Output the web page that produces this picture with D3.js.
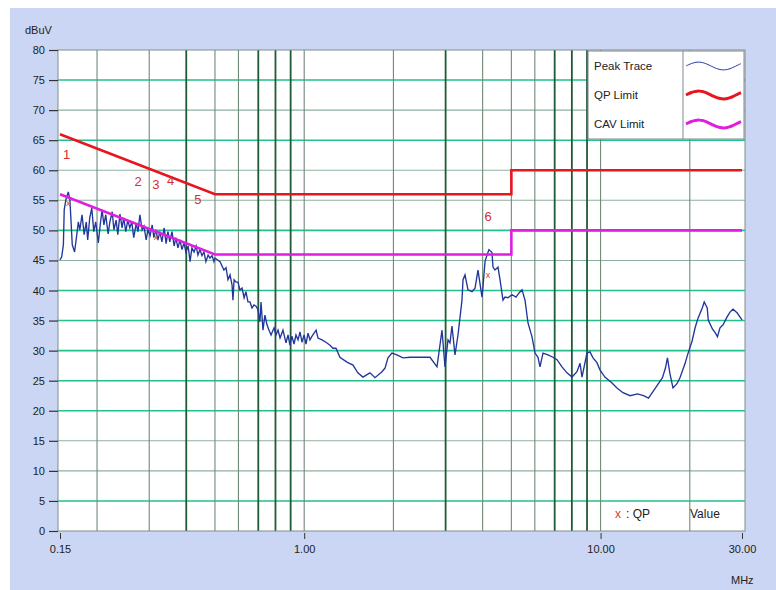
<!DOCTYPE html>
<html><head><meta charset="utf-8">
<script src="https://cdn.jsdelivr.net/npm/d3@7"></script>
<style>
html,body{margin:0;padding:0;background:#fff;}
svg{display:block;}
text{font-family:"Liberation Sans Narrow","Liberation Sans",Arial,sans-serif;}
</style></head>
<body>
<svg id="c" width="776" height="590"></svg>
<script>
// ---------- data ----------
const freqMHz = [0.150,0.152,0.154,0.155,0.157,0.160,0.162,0.165,0.168,0.170,0.173,0.175,0.178,0.181,0.184,0.186,0.189,0.192,0.195,0.198,0.202,0.205,0.208,0.211,0.214,0.218,0.221,0.225,0.228,0.232,0.235,0.239,0.243,0.246,0.250,0.254,0.258,0.262,0.266,0.271,0.275,0.279,0.284,0.288,0.293,0.297,0.302,0.307,0.311,0.316,0.321,0.326,0.331,0.337,0.342,0.347,0.352,0.358,0.364,0.369,0.375,0.381,0.387,0.393,0.399,0.406,0.412,0.418,0.425,0.432,0.438,0.445,0.452,0.459,0.466,0.474,0.481,0.489,0.496,
0.500,0.520,0.536,0.545,0.553,0.562,0.571,0.575,0.580,0.589,0.598,0.607,0.617,0.627,0.636,0.646,0.656,0.667,0.677,0.688,0.698,0.709,0.715,0.726,0.737,0.749,0.761,0.773,0.791,0.803,0.816,0.829,0.848,0.868,0.882,0.895,0.909,0.924,0.938,0.953,0.968,0.983,0.999,1.014,1.030,1.046,1.063,1.097,1.113,1.148,1.184,1.222,1.250,1.280,1.320,1.394,1.461,1.517,1.578,1.667,1.733,1.830,1.874,1.917,1.977,2.054,2.154,2.275,2.459,2.657,2.806,2.917,2.986,3.056,
3.104,3.152,3.227,3.303,3.407,3.434,3.488,3.570,3.683,3.770,3.858,3.980,4.011,4.074,4.138,4.202,4.301,4.335,4.402,4.507,4.578,4.685,4.759,4.871,5.025,5.184,5.306,5.431,5.559,5.690,5.870,6.008,6.150,6.246,6.393,6.645,6.910,7.128,7.410,7.700,8.009,8.324,8.523,8.656,8.996,9.210,9.427,9.722,9.950,10.34,
10.93,11.36,11.90,12.57,13.32,13.96,14.51,15.08,15.67,16.17,16.55,16.81,17.15,17.55,18.10,18.53,19.26,19.71,20.36,20.84,21.32,22.03,22.37,22.90,23.08,23.84,24.41,24.79,25.29,25.89,26.72,27.33,27.97,28.87,30.0];
const peakDb = [45.1,45.6,47.6,53.4,55.1,56.4,55.1,47.6,46.4,48.4,51.4,50.1,52.6,49.3,51.4,48.4,52.1,53.7,49.8,51.4,47.9,50.9,53.4,50.9,52.6,49.4,51.4,53.1,50.1,51.7,49.3,52.7,50.4,52.1,49.8,51.7,50.4,51.4,48.8,51.1,49.8,52.6,50.1,50.7,48.4,50.1,49.1,50.9,48.8,50.1,48.4,49.8,48.1,50.4,47.8,49.8,48.1,49.8,47.4,48.8,47.1,48.4,46.8,47.9,46.4,47.4,44.8,47.1,46.4,47.4,45.9,46.8,45.8,46.4,44.8,45.9,45.4,45.8,44.8,
45.4,44.8,43.4,43.8,41.8,42.6,40.9,38.4,41.8,41.4,41.4,40.1,40.4,38.8,39.8,38.1,38.1,37.1,37.6,37.4,36.8,34.8,38.1,33.4,35.9,34.3,33.4,32.6,33.8,32.6,33.4,32.1,33.4,31.3,32.6,30.9,32.4,31.1,32.6,31.8,33.1,31.4,32.6,31.1,32.9,31.8,32.4,33.4,32.1,31.8,31.4,30.9,30.4,30.4,28.9,28.1,27.6,26.3,25.6,26.3,25.5,26.5,27.1,28.8,29.6,29.3,28.8,28.9,28.9,28.9,27.3,33.4,27.3,31.8,
31.3,34.1,29.3,32.6,38.4,41.8,42.6,40.1,39.8,40.4,43.4,38.9,40.6,44.8,45.9,46.8,46.3,43.9,43.4,43.9,41.8,38.4,38.9,38.8,39.3,38.9,39.6,40.1,38.4,34.6,32.3,29.6,28.9,27.3,29.6,29.3,28.9,28.5,27.3,26.3,25.6,26.5,27.9,25.6,29.6,29.8,28.8,28.0,26.8,25.6,
24.6,23.8,23.0,22.5,22.8,22.5,22.1,23.3,24.5,25.5,27.1,28.8,26.1,23.8,24.5,25.5,27.8,29.5,31.6,33.8,35.4,37.1,38.1,37.1,35.1,33.6,32.9,32.3,33.8,34.3,35.6,36.4,36.9,36.3,35.1];

const limitFreq = [0.15, 0.5, 5, 5, 30];
const qpLimitDb = [66, 56, 56, 60, 60];
const avLimitDb = [56, 46, 46, 50, 50];

const markerNames = ["1","2","3","4","5","6"];
const markerFreq  = [0.158, 0.275, 0.316, 0.354, 0.438, 4.17];
const markerLabelDb = [61.9, 57.4, 56.9, 57.6, 54.4, 51.6];
const qpValueFreq = [0.160, 0.316, 4.17];
const qpValueDb   = [54.5, 48.9, 42.6];

const yTicks = [0,5,10,15,20,25,30,35,40,45,50,55,60,65,70,75,80];
const yGreen = [75,65,50,40,35,30,25,20,5];
const xTickVals = [0.15, 1, 10, 30];
const xTickLabels = ["0.15","1.00","10.00","30.00"];
const vGridFreq = [0.2,0.3,0.4,0.5,0.6,0.7,0.8,0.9,1,2,3,4,5,6,7,8,9,10,20];
const vGridDark = [0.4,0.7,0.8,0.9,3,7,8,9];
const legendNames = ["Peak Trace","QP Limit","CAV Limit"];
const legendColors = ["#2a3f9e","#e8141e","#e01ee0"];

// ---------- layout ----------
const svg = d3.select("#c");
const plot = {l:58, r:745, t:50, b:531};
const x = d3.scaleLog().domain([0.15,30]).range([60,742]);
const y = d3.scaleLinear().domain([0,80]).range([531,50]);

svg.append("rect").attr("x",10).attr("y",8).attr("width",766).attr("height",582).attr("fill","#cad6f3");
svg.append("rect").attr("x",plot.l).attr("y",plot.t).attr("width",plot.r-plot.l).attr("height",plot.b-plot.t).attr("fill","#ffffff");

const defs = svg.append("defs");
defs.append("clipPath").attr("id","clip").append("rect")
  .attr("x",plot.l).attr("y",plot.t).attr("width",plot.r-plot.l).attr("height",plot.b-plot.t);

// horizontal grid
svg.append("g").selectAll("line").data(yTicks.filter(v=>v>0&&v<80)).join("line")
  .attr("x1",plot.l).attr("x2",plot.r).attr("y1",d=>y(d)).attr("y2",d=>y(d))
  .attr("stroke",d=>yGreen.includes(d)?"#22c08e":"#8fb0a0")
  .attr("stroke-width",d=>yGreen.includes(d)?1.6:1.1);

// vertical grid
svg.append("g").selectAll("line").data(vGridFreq).join("line")
  .attr("x1",d=>x(d)).attr("x2",d=>x(d)).attr("y1",plot.t).attr("y2",plot.b)
  .attr("stroke",d=>vGridDark.includes(d)?"#1f5a36":"#6f8a78")
  .attr("stroke-width",d=>vGridDark.includes(d)?1.8:1.1);

// frame
svg.append("rect").attr("x",plot.l).attr("y",plot.t).attr("width",plot.r-plot.l).attr("height",plot.b-plot.t)
  .attr("fill","none").attr("stroke","#7f8f88").attr("stroke-width",1);

// y axis ticks
const yAxis = d3.axisLeft(y).tickValues(yTicks).tickSize(9).tickPadding(4).tickFormat(d3.format("d"));
const gy = svg.append("g").attr("transform",`translate(${plot.l},0)`).call(yAxis);
gy.select(".domain").remove();
gy.selectAll(".tick line").attr("stroke","#333").attr("stroke-width",1.2);
gy.selectAll(".tick text").attr("fill","#222").style("font-size","11px");

// x axis ticks
const xAxis = d3.axisBottom(x).tickValues(xTickVals).tickSize(6).tickPadding(6)
  .tickFormat((d,i)=>xTickLabels[i]);
const gx = svg.append("g").attr("transform",`translate(0,${plot.b+2})`).call(xAxis);
gx.select(".domain").remove();
gx.selectAll(".tick line").attr("stroke","#333");
gx.selectAll(".tick text").attr("fill","#222").style("font-size","11px");

svg.append("text").attr("x",25).attr("y",34).text("dBuV").attr("fill","#222").style("font-size","11px");
svg.append("text").attr("x",731).attr("y",584).text("MHz").attr("fill","#222").style("font-size","11px");

const gp = svg.append("g").attr("clip-path","url(#clip)");
const line = d3.line().x(d=>x(d[0])).y(d=>y(d[1]));

// peak trace
gp.append("path").datum(freqMHz.map((f,i)=>[f,peakDb[i]]))
  .attr("d",line).attr("fill","none").attr("stroke","#22379a").attr("stroke-width",1.35);

// limits
gp.append("path").datum(limitFreq.map((f,i)=>[f,qpLimitDb[i]]))
  .attr("d",line).attr("fill","none").attr("stroke","#e8141e").attr("stroke-width",2.6);
gp.append("path").datum(limitFreq.map((f,i)=>[f,avLimitDb[i]]))
  .attr("d",line).attr("fill","none").attr("stroke","#e01ee0").attr("stroke-width",2.6);

// markers
svg.append("g").selectAll("text").data(markerNames).join("text")
  .attr("x",(d,i)=>x(markerFreq[i])).attr("y",(d,i)=>y(markerLabelDb[i]))
  .attr("text-anchor","middle").attr("fill","#d23030").style("font-size","13px").text(d=>d);
svg.append("g").selectAll("text").data(qpValueFreq).join("text")
  .attr("x",d=>x(d)).attr("y",(d,i)=>y(qpValueDb[i])+3)
  .attr("text-anchor","middle").attr("fill","#d84040").style("font-size","9px").text("x");

// bottom-right note
const note = svg.append("text").attr("x",615).attr("y",518).style("font-size","12px").attr("fill","#222");
note.append("tspan").attr("fill","#d04040").text("x");
note.append("tspan").attr("dx",5).text(": QP");
svg.append("text").attr("x",690).attr("y",518).style("font-size","12px").attr("fill","#222").text("Value");

// legend
const lg = svg.append("g");
lg.append("rect").attr("x",588).attr("y",51).attr("width",156).attr("height",88)
  .attr("fill","#ffffff").attr("stroke","#808890").attr("stroke-width",1);
lg.append("line").attr("x1",683).attr("x2",683).attr("y1",51).attr("y2",139).attr("stroke","#808890");
legendNames.forEach((n,i)=>{
  const cy = 66 + i*29;
  lg.append("text").attr("x",594).attr("y",cy+4).text(n).attr("fill","#222").style("font-size","11.5px");
  const wx = d3.scaleLinear().domain([0,1]).range([686,741]);
  const pts = d3.range(0,1.0001,0.05).map(t=>[wx(t), cy + (i===0? -4*Math.sin(t*Math.PI*2.2) : 4*Math.sin(t*Math.PI*2.2+Math.PI))]);
  lg.append("path").attr("d",d3.line().curve(d3.curveBasis)(pts)).attr("fill","none")
    .attr("stroke",legendColors[i]).attr("stroke-width",i===0?1:3);
});
</script>
</body></html>
